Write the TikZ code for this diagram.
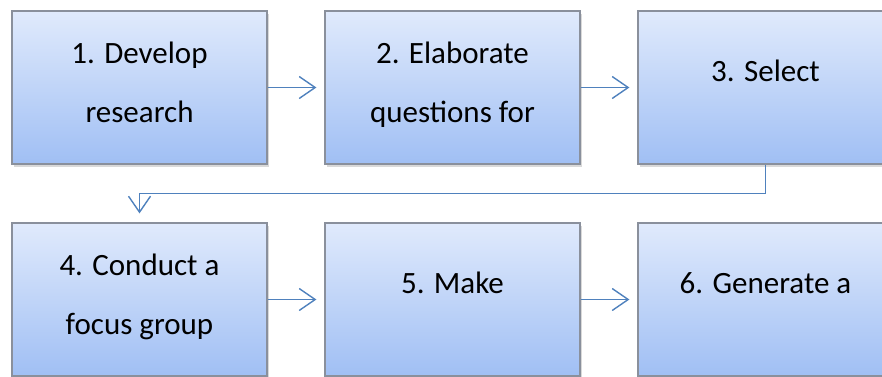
\documentclass[tikz,border=0pt]{standalone}
\usepackage{fontspec}
\setmainfont{Carlito}
\usetikzlibrary{positioning,arrows.meta,shadows}
\definecolor{boxtop}{RGB}{224,234,252}
\definecolor{boxbottom}{RGB}{160,191,244}
\definecolor{boxline}{RGB}{138,144,156}
\definecolor{flowblue}{RGB}{79,129,189}

\tikzstyle{stagebox} = [rectangle, minimum width=255pt, minimum height=153pt, align=center, text height=22pt, text depth=35pt, font=\fontsize{31}{59}\selectfont, draw=boxline, line width=1.2pt, top color=boxtop, bottom color=boxbottom, drop shadow={opacity=0.3, shadow xshift=1.5pt, shadow yshift=-2.5pt}]
\tikzstyle{twoline} = [text height=81pt, text depth=12pt]
\tikzstyle{flow} = [draw=flowblue, line width=1.4pt, -{Straight Barb[length=16pt,width=22pt]}, shorten >=8pt]

\begin{document}
\begin{tikzpicture}[node distance=313pt]
      \useasboundingbox (0,0) rectangle (882pt,-376pt);
      \node (dev) [stagebox, twoline] at (139.5pt,-87.5pt) {1. Develop\\research};
      \node (elab) [stagebox, twoline, right of=dev] {2. Elaborate\\questions for};
      \node (sel) [stagebox, right of=elab] {3. Select};
      \node (cond) [stagebox, twoline, below of=dev, yshift=101pt] {4. Conduct a\\focus group};
      \node (make) [stagebox, right of=cond] {5. Make};
      \node (gen) [stagebox, right of=make] {6. Generate a};

      \draw [flow] (dev) -- (elab);
      \draw [flow] (elab) -- (sel);
      \draw [flow, shorten >=9pt] (sel.south) -- ++(0,-29pt) -| (cond.north);
      \draw [flow] (cond) -- (make);
      \draw [flow] (make) -- (gen);
    \end{tikzpicture}
\end{document}
